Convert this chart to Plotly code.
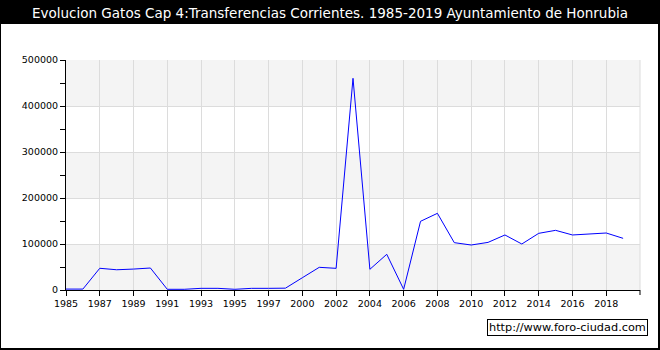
import plotly.graph_objects as go

years = ["1985", "1986", "1987", "1988", "1989", "1990", "1991", "1992", "1993", "1994",
         "1995", "1996", "1997", "1998", "2000", "2001", "2002", "2003", "2004", "2005",
         "2006", "2007", "2008", "2009", "2010", "2011", "2012", "2013", "2014", "2015",
         "2016", "2017", "2018", "2019"]
values = [2000, 2000, 47200, 44000, 45500, 47800, 1500, 1500, 3600, 3600,
          1500, 3600, 3600, 4000, 26700, 49300, 47100, 460200, 45000, 77600,
          1500, 149300, 166700, 102900, 97800, 103500, 119600, 100000, 123200, 129700,
          119600, 121700, 123900, 112300]
tick_labels = years[::2]
title = "Evolucion Gatos Cap 4:Transferencias Corrientes. 1985-2019 Ayuntamiento de Honrubia"
watermark = "http://www.foro-ciudad.com"

W, H = 660, 350
L, R, T, B = 66, 640, 60, 290
pw, ph = R - L, B - T

def px(x):
    return (x - L) / pw

def py(y):
    return (B - y) / ph

fig = go.Figure()
fig.add_trace(go.Scatter(x=years, y=values, mode="lines",
                         line=dict(color="#0000ff", width=1), hoverinfo="x+y"))

shapes = [
    dict(type="rect", xref="paper", yref="paper", x0=px(1), x1=px(658), y0=py(348), y1=py(24),
         fillcolor="white", line=dict(width=0), layer="below"),
]
for lo in (0, 200000, 400000):
    shapes.append(dict(type="rect", xref="paper", yref="y", x0=0, x1=1, y0=lo, y1=lo + 100000,
                       fillcolor="#f4f4f4", line=dict(width=0), layer="below"))
shapes.append(dict(type="line", xref="paper", yref="paper", x0=1, x1=1, y0=0, y1=1,
                   line=dict(color="#dcdcdc", width=1), layer="below"))
shapes.append(dict(type="line", xref="paper", yref="paper", x0=1, x1=1, y0=0, y1=py(295),
                   line=dict(color="black", width=1)))

fig.update_layout(
    width=W, height=H,
    margin=dict(l=L, r=W - R, t=T, b=H - B, pad=0),
    paper_bgcolor="black",
    plot_bgcolor="rgba(0,0,0,0)",
    showlegend=False,
    font=dict(family="DejaVu Sans", size=10, color="black"),
    shapes=shapes,
    title=dict(text=title, x=0.5, xref="container", xanchor="center",
               y=1 - 13 / H, yref="container", yanchor="middle",
               font=dict(family="DejaVu Sans", size=13.5, color="white")),
    xaxis=dict(type="category", categoryorder="array", categoryarray=years,
               range=[0, len(years)], tickmode="array", tickvals=tick_labels,
               ticktext=tick_labels, showgrid=True, gridcolor="#dcdcdc", gridwidth=1,
               showline=True, linecolor="black", linewidth=1,
               ticks="outside", ticklen=5, tickcolor="black",
               tickfont=dict(family="DejaVu Sans", size=9.5, color="black"),
               zeroline=False, fixedrange=True),
    yaxis=dict(range=[0, 500000], dtick=100000, tick0=0, showgrid=True,
               gridcolor="#dcdcdc", gridwidth=1, showline=True, linecolor="black",
               linewidth=1, ticks="outside", ticklen=5, tickcolor="black",
               tickformat="d", zeroline=False,
               minor=dict(dtick=50000, ticks="outside", ticklen=5, tickcolor="black", showgrid=False),
               tickfont=dict(family="DejaVu Sans", size=9.5, color="black"), fixedrange=True),
    annotations=[dict(text=watermark, xref="paper", yref="paper", x=px(648), y=py(327),
                      xanchor="right", yanchor="middle", showarrow=False,
                      font=dict(family="DejaVu Sans", size=11.3, color="black"),
                      bgcolor="white", bordercolor="black", borderwidth=1, borderpad=1)],
)

fig.write_html("out.html", config={"displayModeBar": False},
               post_script="document.body.style.margin='0';document.body.style.overflow='hidden';")
